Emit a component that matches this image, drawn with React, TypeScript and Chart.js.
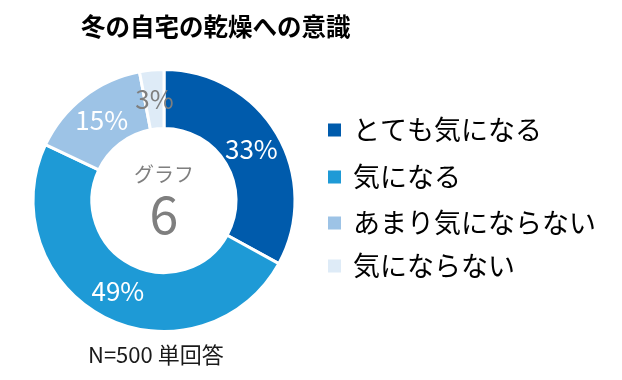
import React, { useEffect, useRef } from "react";
import { Chart, registerables } from "chart.js";

Chart.register(...registerables);

const titleText = "冬の自宅の乾燥への意識";
const categories = ["とても気になる", "気になる", "あまり気にならない", "気にならない"];
const values = [33, 49, 15, 3];
const colors = ["#005BAC", "#1E9AD6", "#9DC3E6", "#DEEBF7"];
const labelColors = ["#FFFFFF", "#FFFFFF", "#FFFFFF", "#7F7F7F"];
const centerTop = "グラフ";
const centerNum = "6";
const footerText = "N=500 単回答";

const JP = '"Noto Sans CJK JP", "Noto Sans", sans-serif';

const textPlugin = {
  id: "textPlugin",
  afterDatasetsDraw(chart: any) {
    const ctx = chart.ctx;
    const meta = chart.getDatasetMeta(0);
    ctx.save();
    // value labels
    ctx.textAlign = "center";
    ctx.textBaseline = "middle";
    ctx.font = `400 26px ${JP}`;
    meta.data.forEach((arc: any, i: number) => {
      const p = arc.tooltipPosition();
      ctx.fillStyle = labelColors[i];
      ctx.fillText(values[i] + "%", p.x, p.y);
    });
    // center
    const c = meta.data[0];
    ctx.fillStyle = "#7F7F7F";
    ctx.font = `400 20px ${JP}`;
    ctx.fillText(centerTop, c.x, c.y - 26);
    ctx.font = `400 52px ${JP}`;
    ctx.fillText(centerNum, c.x, c.y + 14);
    // title
    ctx.fillStyle = "#000000";
    ctx.font = `700 24.5px ${JP}`;
    ctx.textAlign = "left";
    ctx.fillText(titleText, 81, 27);
    // legend
    const rows = [130, 177, 223, 266];
    ctx.font = `400 27px ${JP}`;
    categories.forEach((cat, i) => {
      ctx.fillStyle = colors[i];
      ctx.fillRect(328, rows[i] - 6.5, 13, 13);
      ctx.fillStyle = "#000000";
      ctx.fillText(cat, 353, rows[i]);
    });
    // footer
    ctx.fillStyle = "#1A1A1A";
    ctx.font = `400 22px ${JP}`;
    ctx.fillText(footerText, 88, 355);
    ctx.restore();
  },
};

export default function App() {
  const ref = useRef<HTMLCanvasElement>(null);
  useEffect(() => {
    document.body.style.margin = "0";
    const chart = new Chart(ref.current!, {
      type: "doughnut",
      data: {
        labels: categories,
        datasets: [
          {
            data: values,
            backgroundColor: colors,
            borderColor: "#FFFFFF",
            borderWidth: 3,
          },
        ],
      },
      options: {
        responsive: false,
        animation: false,
        cutout: "55%",
        layout: { padding: { left: 31, right: 325, top: 68, bottom: 47 } },
        plugins: {
          legend: { display: false },
          tooltip: { enabled: false },
          title: { display: false },
        },
      },
      plugins: [textPlugin],
    });
    return () => chart.destroy();
  }, []);
  return (
    <div style={{ position: "absolute", left: 0, top: 0, width: 622, height: 380, background: "#fff" }}>
      <canvas ref={ref} width={622} height={380} style={{ width: 622, height: 380 }} />
    </div>
  );
}
